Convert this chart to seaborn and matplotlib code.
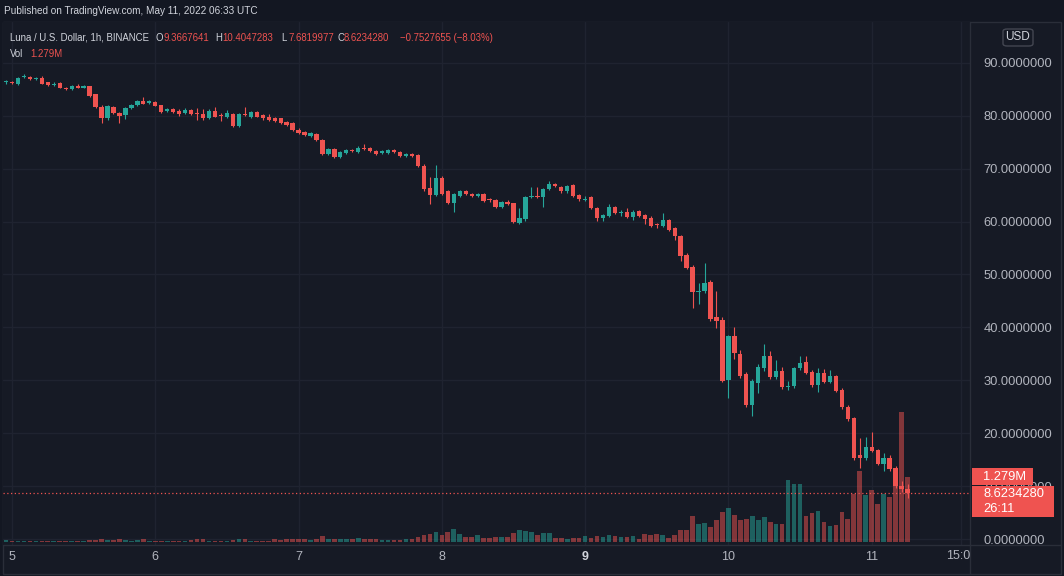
import numpy as np
import pandas as pd
import matplotlib
matplotlib.use("Agg")
import matplotlib.pyplot as plt
import seaborn as sns
from matplotlib.lines import Line2D
from matplotlib.patches import Rectangle, FancyBboxPatch

# ================== 数据 (LUNA/USD, 1h, Binance) ==================
start_time = "2022-05-04 23:00"

opens = [86.3, 86.4, 86.0, 87.4, 87.3, 87.0, 87.1, 86.3, 85.8, 86.2,
         85.3, 85.0, 85.6, 85.3, 85.6, 84.1, 81.7, 79.6, 81.7, 80.5,
         80.1, 81.5, 82.0, 82.8, 82.4, 82.6, 82.0, 80.9, 81.2, 81.0,
         80.5, 81.1, 80.5, 80.4, 79.5, 81.0, 80.0, 79.8, 80.3, 78.0,
         80.3, 79.8, 80.7, 80.1, 79.8, 79.6, 79.5, 78.8, 78.6, 77.4,
         77.0, 76.2, 76.6, 75.5, 72.7, 73.7, 72.2, 72.9, 73.5, 73.2,
         74.0, 73.9, 73.4, 72.9, 72.9, 73.5, 73.2, 72.4, 72.8, 72.5,
         70.6, 66.3, 65.0, 68.2, 65.7, 63.6, 64.8, 65.8, 65.3, 64.8,
         65.2, 64.1, 64.1, 62.7, 63.7, 63.5, 59.8, 60.4, 64.7, 64.8,
         64.7, 66.1, 67.1, 66.6, 65.7, 66.9, 65.0, 64.1, 64.6, 62.5,
         60.6, 61.1, 62.7, 61.7, 61.9, 60.8, 62.0, 61.2, 60.6, 59.5,
         59.2, 60.3, 58.7, 57.3, 53.7, 51.5, 46.6, 46.9, 48.6, 42.0,
         41.4, 30.1, 38.4, 35.0, 31.2, 25.3, 29.5, 32.3, 34.5, 30.7,
         31.8, 28.8, 28.9, 32.3, 33.5, 31.6, 29.1, 31.3, 29.7, 30.8,
         28.2, 25.0, 22.8, 15.9, 15.3, 17.3, 16.8, 14.2, 15.4, 13.4,
         10.1, 9.3667641]

highs = [86.7, 86.6, 87.3, 87.9, 87.5, 87.4, 87.6, 86.4, 86.3, 86.4,
         85.5, 85.8, 86.0, 85.8, 85.7, 84.2, 82.0, 82.1, 81.9, 80.8,
         81.7, 82.3, 83.0, 83.5, 83.0, 82.8, 82.1, 81.5, 81.4, 81.2,
         81.4, 81.3, 81.5, 81.3, 81.2, 81.7, 80.6, 81.1, 80.5, 80.5,
         81.6, 81.0, 80.9, 80.3, 80.3, 79.8, 79.6, 79.0, 78.8, 77.6,
         77.2, 76.9, 76.8, 75.7, 73.9, 73.9, 73.4, 73.8, 73.7, 74.3,
         74.6, 74.1, 73.6, 73.5, 73.7, 73.7, 73.4, 73.0, 73.0, 72.7,
         70.8, 68.4, 70.7, 68.6, 65.9, 65.4, 66.0, 66.0, 65.5, 65.5,
         65.4, 64.5, 64.3, 63.9, 64.0, 63.6, 62.5, 64.9, 66.6, 66.6,
         66.3, 67.7, 67.3, 66.8, 67.0, 67.1, 65.2, 64.8, 64.8, 62.7,
         61.4, 63.4, 62.9, 62.2, 62.6, 62.1, 62.2, 61.4, 61.0, 59.8,
         61.6, 60.5, 58.9, 57.5, 54.0, 51.8, 48.3, 52.2, 48.9, 46.9,
         42.0, 38.6, 40.1, 35.8, 31.5, 30.3, 33.1, 36.9, 35.6, 33.8,
         32.6, 29.8, 32.6, 34.5, 34.5, 31.9, 32.3, 32.2, 31.9, 31.0,
         28.5, 25.4, 23.1, 19.0, 19.2, 20.3, 17.1, 16.2, 15.8, 13.8,
         10.9, 10.4047283]

lows = [86.0, 86.0, 85.9, 87.2, 86.8, 86.8, 86.0, 85.6, 85.6, 85.2,
        84.8, 84.9, 85.2, 85.2, 83.6, 81.5, 78.6, 79.3, 80.3, 78.6,
        79.4, 81.3, 81.9, 82.2, 82.2, 81.8, 80.6, 80.7, 80.6, 80.0,
        80.3, 80.1, 79.2, 79.3, 79.4, 79.7, 79.0, 79.6, 77.8, 77.9,
        80.0, 79.6, 79.7, 79.3, 79.1, 78.8, 78.4, 78.1, 77.1, 76.5,
        76.1, 76.0, 75.2, 72.5, 72.5, 72.0, 72.0, 72.7, 73.1, 73.0,
        73.5, 73.1, 72.6, 72.7, 72.8, 73.0, 72.2, 72.2, 72.2, 70.3,
        65.8, 63.3, 64.8, 65.0, 63.3, 61.9, 64.6, 65.0, 64.6, 64.6,
        63.7, 63.7, 62.5, 62.5, 63.1, 59.8, 59.6, 60.2, 64.5, 64.5,
        62.8, 65.9, 66.5, 65.5, 65.5, 64.6, 63.8, 63.9, 62.3, 60.1,
        60.1, 60.9, 61.4, 61.0, 60.6, 60.3, 60.9, 59.5, 59.0, 58.8,
        59.0, 58.3, 56.5, 52.6, 51.0, 43.6, 44.4, 46.5, 41.2, 39.8,
        29.6, 26.6, 34.0, 30.5, 25.0, 23.3, 27.6, 31.8, 30.3, 30.3,
        28.4, 28.2, 28.6, 31.9, 31.1, 28.7, 27.8, 29.4, 29.4, 27.7,
        24.6, 22.3, 15.0, 13.4, 14.9, 16.4, 13.9, 12.9, 12.9, 9.7,
        8.9, 7.6819977]

closes = [86.4, 86.2, 87.2, 87.5, 86.9, 87.1, 86.1, 85.8, 86.1, 85.3,
          85.0, 85.6, 85.3, 85.6, 83.8, 81.7, 79.6, 81.9, 80.5, 80.0,
          81.5, 82.1, 82.8, 82.3, 82.8, 81.9, 80.8, 81.3, 80.8, 80.3,
          81.1, 80.3, 80.4, 79.5, 81.0, 79.8, 79.9, 80.5, 78.0, 80.3,
          80.2, 80.7, 79.8, 79.5, 79.3, 79.0, 78.6, 78.3, 77.3, 76.7,
          76.4, 76.7, 75.4, 72.7, 73.7, 72.2, 73.2, 73.5, 73.3, 74.0,
          73.7, 73.3, 72.8, 73.3, 73.5, 73.2, 72.4, 72.8, 72.4, 70.5,
          66.1, 65.0, 68.2, 65.3, 63.5, 65.2, 65.8, 65.2, 64.8, 65.3,
          63.9, 64.0, 62.7, 63.7, 63.3, 60.0, 60.6, 64.7, 64.8, 64.7,
          66.1, 67.1, 66.7, 65.7, 66.8, 64.8, 64.2, 64.3, 62.5, 60.6,
          61.2, 62.7, 61.6, 61.8, 60.8, 61.9, 61.1, 60.4, 59.2, 59.4,
          60.3, 58.5, 57.3, 53.5, 51.3, 46.6, 46.8, 48.3, 41.5, 41.3,
          29.9, 38.4, 35.1, 30.8, 25.3, 29.9, 32.6, 34.5, 30.6, 31.8,
          28.7, 28.9, 32.3, 33.3, 31.4, 29.1, 31.3, 29.7, 30.8, 28.0,
          24.9, 22.6, 15.3, 15.3, 17.3, 16.7, 14.2, 15.3, 13.2, 10.0,
          9.3761935, 8.6234280]

# 成交量 (单位: M)
volumes = [0.033, 0.026, 0.026, 0.026, 0.020, 0.013, 0.026, 0.026, 0.020, 0.026,
           0.026, 0.013, 0.013, 0.020, 0.033, 0.046, 0.060, 0.033, 0.033, 0.052,
           0.040, 0.026, 0.033, 0.052, 0.026, 0.020, 0.026, 0.020, 0.026, 0.020,
           0.026, 0.040, 0.052, 0.052, 0.026, 0.026, 0.026, 0.026, 0.040, 0.066,
           0.052, 0.026, 0.026, 0.026, 0.026, 0.052, 0.040, 0.052, 0.052, 0.052,
           0.052, 0.040, 0.066, 0.120, 0.066, 0.052, 0.052, 0.066, 0.052, 0.080,
           0.052, 0.052, 0.052, 0.040, 0.040, 0.040, 0.040, 0.066, 0.052, 0.092,
           0.144, 0.157, 0.197, 0.130, 0.200, 0.260, 0.150, 0.100, 0.090, 0.130,
           0.085, 0.085, 0.100, 0.100, 0.090, 0.170, 0.230, 0.210, 0.200, 0.130,
           0.180, 0.180, 0.085, 0.085, 0.050, 0.085, 0.070, 0.120, 0.085, 0.120,
           0.100, 0.130, 0.120, 0.100, 0.100, 0.120, 0.065, 0.150, 0.130, 0.150,
           0.130, 0.085, 0.130, 0.230, 0.240, 0.510, 0.350, 0.370, 0.300, 0.430,
           0.590, 0.670, 0.530, 0.430, 0.450, 0.520, 0.430, 0.500, 0.390, 0.350,
           0.350, 1.230, 1.150, 1.150, 0.520, 0.580, 0.620, 0.390, 0.310, 0.330,
           0.600, 0.450, 0.950, 1.390, 0.920, 1.030, 0.750, 0.940, 0.890, 1.100,
           2.550, 1.279]

day_ticks = ["2022-05-05", "2022-05-06", "2022-05-07", "2022-05-08",
             "2022-05-09", "2022-05-10", "2022-05-11"]
day_labels = ["5", "6", "7", "8", "9", "10", "11"]
extra_grid_time = "2022-05-11 15:00"
extra_label = "15:0"
price_ticks = [0, 10, 20, 30, 40, 50, 60, 70, 80, 90]

header_text = "Published on TradingView.com, May 11, 2022 06:33 UTC"
symbol_text = "Luna / U.S. Dollar, 1h, BINANCE"
countdown = "26:11"
# ==================================================================

W_PX, H_PX = 1064, 576
BG = "#161a25"
HEADER_BG = "#131722"
GRID = "#1f2330"
BORDER = "#2a2e39"
UP = "#26a69a"
DOWN = "#ef5350"
TXT = "#b2b5be"
TXT_LIGHT = "#d1d4dc"


def fx(px):
    return px / W_PX


def fy(py):
    return 1 - py / H_PX


# ---------- 整理数据 ----------
t0 = pd.Timestamp("2022-05-05")
times = pd.date_range(start_time, periods=len(opens), freq="h")
df = pd.DataFrame({
    "time": times,
    "open": opens, "high": highs, "low": lows, "close": closes,
    "vol": volumes,
})
df["x"] = (df["time"] - t0) / pd.Timedelta(hours=1)
df["dir"] = np.where(df["close"] >= df["open"], "up", "down")
df["body_lo"] = df[["open", "close"]].min(axis=1)
df["body_h"] = np.maximum((df["close"] - df["open"]).abs(), 0.19)

day_x = [(pd.Timestamp(d) - t0) / pd.Timedelta(hours=1) for d in day_ticks]
extra_x = (pd.Timestamp(extra_grid_time) - t0) / pd.Timedelta(hours=1)

# ---------- 画布 ----------
sns.set_theme(style="dark", rc={
    "figure.facecolor": HEADER_BG,
    "axes.facecolor": BG,
    "savefig.facecolor": HEADER_BG,
})
plt.rcParams["font.family"] = ["Liberation Sans", "DejaVu Sans"]

fig = plt.figure(figsize=(W_PX / 100, H_PX / 100), dpi=100)

# 图表区背景与边框
fig.add_artist(Rectangle((fx(3), fy(574)), fx(1058), (574 - 22) / H_PX,
                         transform=fig.transFigure, facecolor=BG,
                         edgecolor=BORDER, lw=1, zorder=-5))

ax_l, ax_r, ax_t, ax_b = 3, 970, 22, 545
ax_vol = fig.add_axes([fx(ax_l), fy(ax_b), (ax_r - ax_l) / W_PX, (ax_b - ax_t) / H_PX])
ax_vol.set_facecolor(BG)

# 成交量 (底层)
sns.barplot(data=df, x="x", y="vol", hue="dir",
            palette={"up": UP, "down": DOWN}, native_scale=True, dodge=False,
            width=0.78, saturation=1, alpha=0.5, errorbar=None, legend=False,
            linewidth=0, ax=ax_vol)

# 网格
for xv in day_x + [extra_x]:
    ax_vol.axvline(xv, color=GRID, lw=1, zorder=0)

ax = ax_vol.twinx()

for p in price_ticks:
    ax_vol.add_line(Line2D([0, 1], [p, p], transform=ax.get_yaxis_transform(),
                           color=GRID, lw=1, zorder=0))

# K线
colors = df["dir"].map({"up": UP, "down": DOWN})
ax.vlines(df["x"], df["low"], df["high"], colors=colors, lw=0.8, zorder=2)
ax.bar(df["x"], df["body_h"], bottom=df["body_lo"], width=0.72,
       color=colors, lw=0, zorder=3)

# 最新价虚线
ax.axhline(closes[-1], color=DOWN, lw=0.9, ls=(0, (1, 2)), zorder=1)

# 坐标范围 (按像素位置换算)
px_per_h = 5.97
ax_vol.set_xlim((ax_l - 12) / px_per_h, (ax_r - 12) / px_per_h)
px_per_usd = 5.29
ax.set_ylim((539 - ax_b) / px_per_usd, (539 - ax_t) / px_per_usd)
px_per_m = 50.8
ax_vol.set_ylim((542 - ax_b) / px_per_m, (542 - ax_t) / px_per_m)

# 刻度
ax_vol.set_yticks([])
ax_vol.set_ylabel("")
ax_vol.set_xlabel("")
ax_vol.set_xticks(day_x)
ax_vol.set_xticklabels(day_labels)
ax_vol.tick_params(axis="x", length=0, pad=4.5, labelsize=9, colors=TXT)
ax_vol.get_xticklabels()[4].set_fontweight("bold")
ax_vol.get_xticklabels()[4].set_color(TXT_LIGHT)

ax.set_yticks(price_ticks)
ax.set_yticklabels([f"{p:.7f}" for p in price_ticks])
ax.tick_params(axis="y", length=0, pad=9.5, labelsize=9.3, colors=TXT)
ax.set_ylabel("")

for a in (ax, ax_vol):
    for s in a.spines.values():
        s.set_visible(False)

# 分隔线
fig.add_artist(Line2D([fx(ax_r), fx(ax_r)], [fy(22), fy(574)], transform=fig.transFigure,
                      color=BORDER, lw=1))
fig.add_artist(Line2D([fx(3), fx(1061)], [fy(ax_b), fy(ax_b)], transform=fig.transFigure,
                      color=BORDER, lw=1))

fig.text(fx(946), fy(556), extra_label, fontsize=9, color=TXT, va="center", ha="left")

# ---------- 文本 ----------
fig.text(fx(4), fy(11), header_text, fontsize=7.2, color=TXT_LIGHT, va="center")

chg = closes[-1] - closes[-2]
pct = chg / closes[-2] * 100
legend_y = fy(38)
LEG_FS = 6.9
pieces = [
    (10, symbol_text, TXT_LIGHT),
    (155, "O", TXT_LIGHT), (163, f"{opens[-1]:.7f}", DOWN),
    (215, "H", TXT_LIGHT), (222, f"{highs[-1]:.7f}", DOWN),
    (281, "L", TXT_LIGHT), (288, f"{lows[-1]:.7f}", DOWN),
    (337, "C", TXT_LIGHT), (344, f"{closes[-1]:.7f}", DOWN),
    (400, f"{chg:.7f} ({pct:.2f}%)".replace("-", "\u2212"), DOWN),
]
for px, s, c in pieces:
    fig.text(fx(px), legend_y, s, fontsize=LEG_FS, color=c, va="center")
fig.text(fx(10), fy(54), "Vol", fontsize=LEG_FS, color=TXT_LIGHT, va="center")
fig.text(fx(30), fy(54), f"{volumes[-1]:.3f}M", fontsize=LEG_FS, color=DOWN, va="center")

# USD 标签
fig.add_artist(FancyBboxPatch((fx(1003), fy(46)), fx(30), 17 / H_PX,
                              boxstyle="round,pad=0,rounding_size=0.004",
                              transform=fig.transFigure, facecolor=BG,
                              edgecolor="#434651", lw=1))
fig.text(fx(1018), fy(37.5), "USD", fontsize=8.5, color=TXT_LIGHT, ha="center", va="center")

# 右侧价格标签
fig.add_artist(Rectangle((fx(972), fy(485)), fx(61), 17 / H_PX, transform=fig.transFigure,
                         facecolor=DOWN, edgecolor="none", zorder=5))
fig.text(fx(983), fy(476.5), f"{volumes[-1]:.3f}M", fontsize=9.3, color="#ffffff",
         va="center", zorder=6)
fig.add_artist(Rectangle((fx(972), fy(517)), fx(82), 31 / H_PX, transform=fig.transFigure,
                         facecolor=DOWN, edgecolor="none", zorder=5))
fig.text(fx(983), fy(494), f"{closes[-1]:.7f}", fontsize=9.3, color="#ffffff",
         va="center", zorder=6)
fig.text(fx(983), fy(509), countdown, fontsize=9.3, color="#ffffff",
         va="center", zorder=6)

fig.savefig("out.png", dpi=100)
